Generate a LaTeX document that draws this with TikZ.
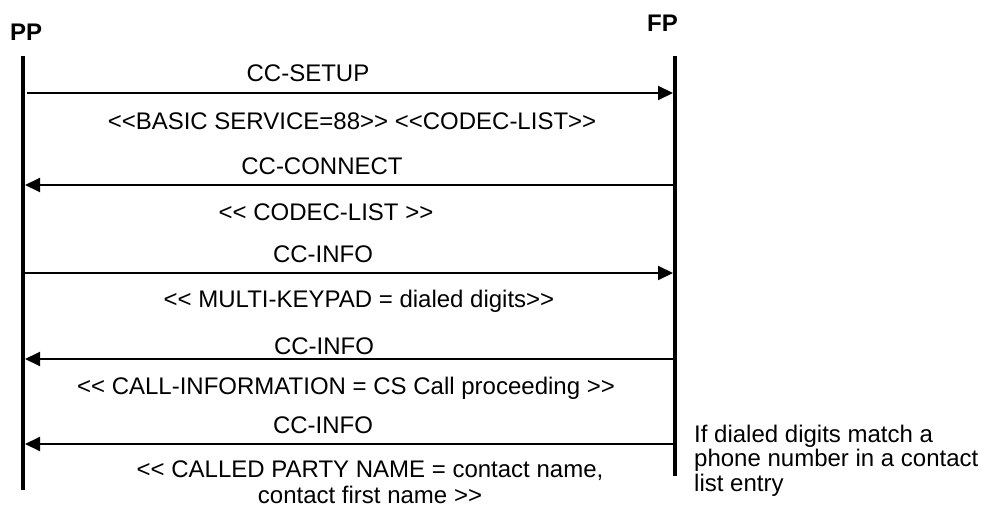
\documentclass[tikz,border=0pt]{standalone}
\usepackage{fontspec}
\setmainfont{Liberation Sans}[Ligatures=TeXOff]
\usetikzlibrary{arrows.meta}
\begin{document}
\begin{tikzpicture}[x=1pt,y=-1pt,
  lbl/.style={font=\fontsize{24}{24.5}\selectfont, inner sep=0pt, anchor=base, align=center},
  note/.style={font=\fontsize{24}{24.5}\selectfont, inner sep=0pt, anchor=base west, align=left},
  head/.style={font=\fontsize{24}{24}\selectfont\bfseries, inner sep=0pt, anchor=base west},
  life/.style={line width=4pt},
  msg/.style={line width=2pt, -{Triangle[length=15pt,width=14pt]}},
]
\useasboundingbox (0,0) rectangle (981,508);
% entities
\node[head] (PP) at (10,41) {PP};
\node[head] (FP) at (647,32) {FP};
% lifelines
\coordinate (pptop) at (23,56);
\coordinate (ppbot) at (23,490);
\coordinate (fptop) at (675,56);
\coordinate (fpbot) at (675,476);
\draw[life] (pptop) -- (ppbot);
\draw[life] (fptop) -- (fpbot);
% message end points
\coordinate (a1) at (27,93);  \coordinate (b1) at (673,93);
\coordinate (a2) at (25,185); \coordinate (b2) at (673,185);
\coordinate (a3) at (25,273); \coordinate (b3) at (673,273);
\coordinate (a4) at (25,359); \coordinate (b4) at (673,359);
\coordinate (a5) at (25,444); \coordinate (b5) at (673,444);
% messages
\draw[msg] (a1) -- (b1);
\draw[msg] (b2) -- (a2);
\draw[msg] (a3) -- (b3);
\draw[msg] (b4) -- (a4);
\draw[msg] (b5) -- (a5);
% labels
\node[lbl] (m1) at (308,82) {CC-SETUP};
\node[lbl] (p1) at (352,129) {<<BASIC SERVICE=88>> <<CODEC-LIST>>};
\node[lbl] (m2) at (322,174) {CC-CONNECT};
\node[lbl] (p2) at (326,220) {<< CODEC-LIST >>};
\node[lbl] (m3) at (323,262) {CC-INFO};
\node[lbl] (p3) at (359,307) {<< MULTI-KEYPAD = dialed digits>>};
\node[lbl] (m4) at (324,354) {CC-INFO};
\node[lbl] (p4) at (346,394) {<< CALL-INFORMATION = CS Call proceeding >>};
\node[lbl] (m5) at (323,433) {CC-INFO};
\node[lbl, font=\fontsize{24}{25.5}\selectfont] (p5) at (370,503) {<< CALLED PARTY NAME = contact name,\\ contact first name >>};
% side note
\node[note] (n1) at (694,491) {If dialed digits match a\\phone number in a contact\\list entry};
\end{tikzpicture}
\end{document}
